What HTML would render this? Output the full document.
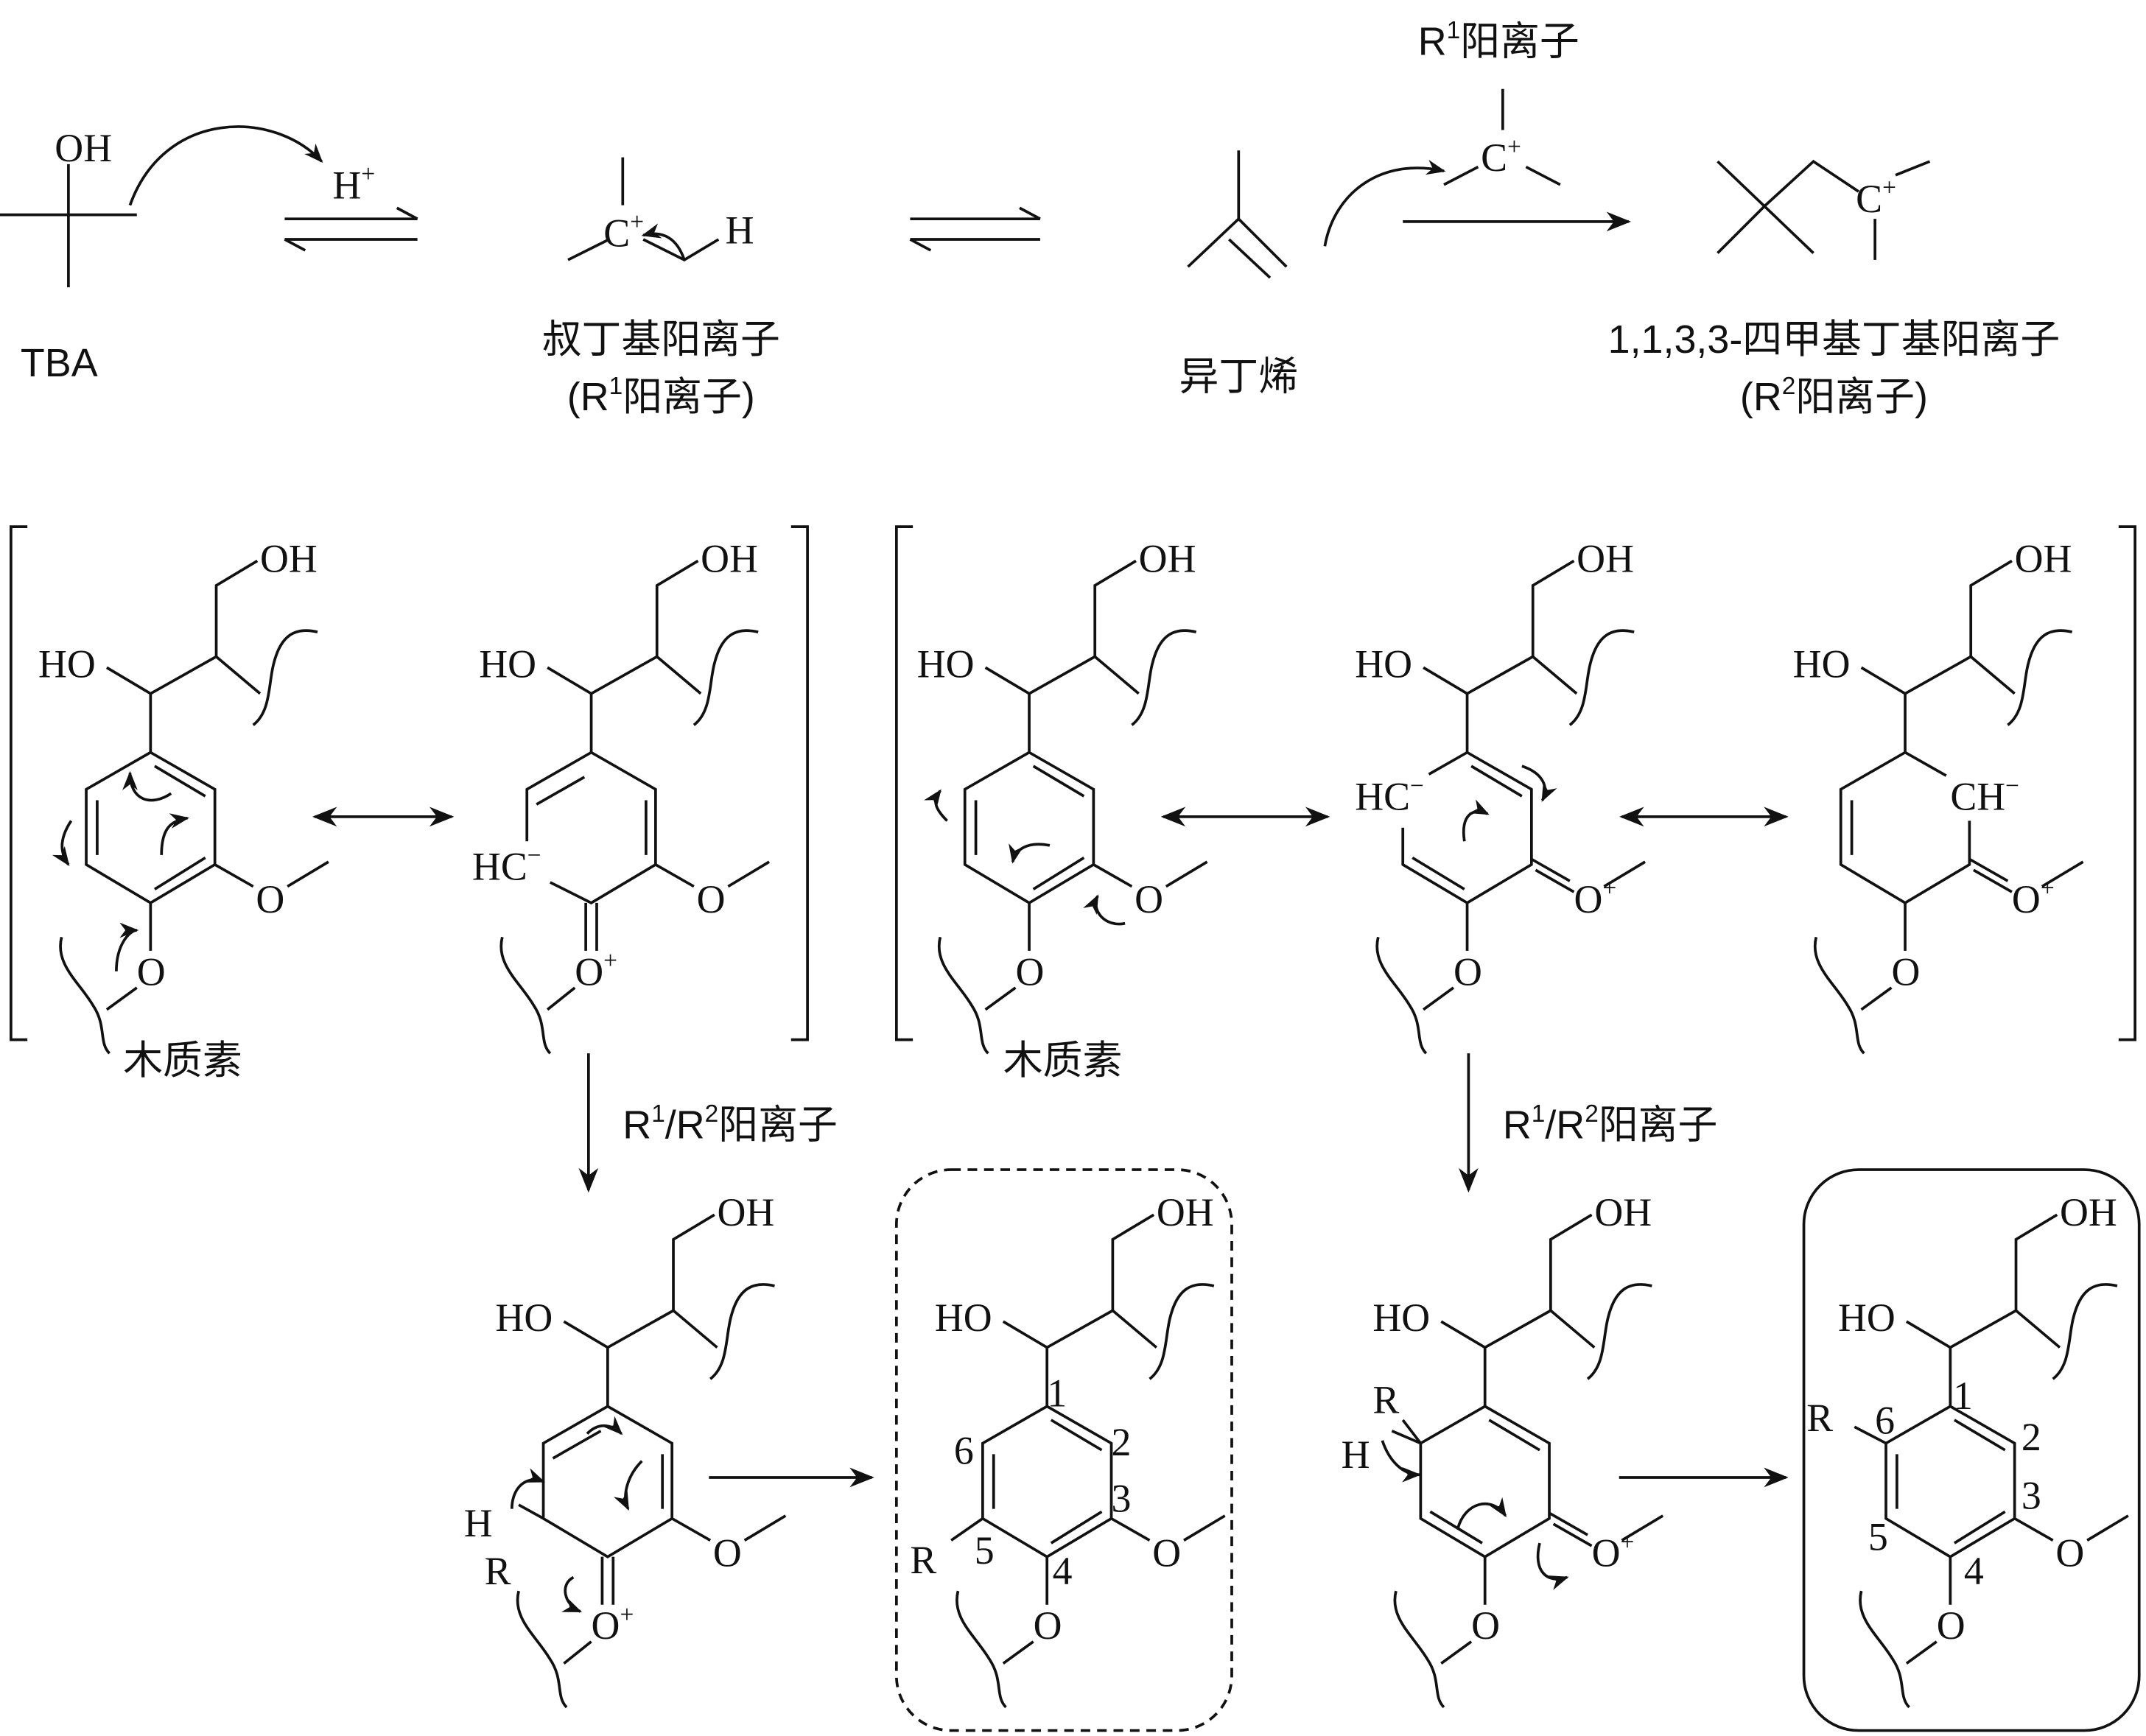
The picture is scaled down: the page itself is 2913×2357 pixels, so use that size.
<!DOCTYPE html>
<html><head><meta charset="utf-8"><style>
html,body{margin:0;padding:0;background:#fff}
svg{display:block}
text{font-family:"Liberation Serif","Noto Serif CJK SC",serif;font-size:29px;fill:#111}
.cn{font-family:"Liberation Sans","Noto Sans CJK SC",sans-serif;font-size:29px}
</style></head><body>
<svg width="2913" height="2357" viewBox="0 0 1568 1269" preserveAspectRatio="none" xmlns="http://www.w3.org/2000/svg">
<defs>
<marker id="ah" viewBox="0 0 10 10" refX="9" refY="5" markerWidth="9" markerHeight="9" orient="auto-start-reverse"><path d="M0,1 L10,5 L0,9 L3,5z" fill="#111"/></marker>
<marker id="ca" viewBox="0 0 10 10" refX="9" refY="5" markerWidth="7" markerHeight="7" orient="auto"><path d="M0,1 L10,5 L0,9 L3,5z" fill="#111"/></marker>
<g id="sk" fill="none" stroke="#111" stroke-width="2">
<path d="M78,488 L110,507 L158,480 L158,428 L188,410 M158,480 L190,507 M110,507 L110,550"/>
<path d="M185,530 C198,520 196,500 200,485 C205,465 215,458 232,462"/>
<path d="M157,632 L185,648 M210,648 L240,630"/>
<path d="M45,685 C40,705 58,718 68,735 C78,750 72,762 80,770"/>
</g>
</defs>
<g fill="none" stroke="#111" stroke-width="2">
<path d="M0,157 L100,157 M50,120 L50,210"/>
<path d="M95,150 C120,80 200,80 235,118" marker-end="url(#ca)"/>
<path d="M208,160 L305,160 M290,152 L305,160 M208,175 L305,175 M208,175 L223,183"/>
<path d="M455,115 L455,150 M415,190 L445,175 M470,175 L500,190 L525,175"/>
<path d="M500,190 C495,175 485,168 470,172" marker-end="url(#ca)"/>
<path d="M665,160 L760,160 M745,152 L760,160 M665,175 L760,175 M665,175 L680,183"/>
<path d="M905,110 L905,160 L868,195 M905,160 L940,195 M898,175 L928,203"/>
<path d="M968,180 C975,140 1010,115 1055,125" marker-end="url(#ca)"/>
<path d="M1098,65 L1098,95 M1055,135 L1080,122 M1115,122 L1140,135"/>
<path d="M1025,162 L1190,162" marker-end="url(#ah)"/>
<path d="M1255,118 L1325,185 M1255,185 L1290,150 L1325,118 L1358,140 M1370,160 L1370,190 M1385,128 L1410,118"/>
<path d="M20,385 L8,385 L8,760 L20,760 M578,385 L590,385 L590,760 L578,760"/>
<path d="M667,385 L655,385 L655,760 L667,760 M1548,385 L1560,385 L1560,760 L1548,760"/>
<path d="M230,597 L330,597" marker-start="url(#ah)" marker-end="url(#ah)"/>
<path d="M850,597 L970,597" marker-start="url(#ah)" marker-end="url(#ah)"/>
<path d="M1185,597 L1305,597" marker-start="url(#ah)" marker-end="url(#ah)"/>
<path d="M430,770 L430,870" marker-end="url(#ah)"/>
<path d="M1073,770 L1073,870" marker-end="url(#ah)"/>
<path d="M518,1080 L637,1080" marker-end="url(#ah)"/>
<path d="M1183,1080 L1305,1080" marker-end="url(#ah)"/>
<rect x="655" y="855" width="245" height="410" rx="40" stroke-dasharray="7,5"/>
<rect x="1318" y="855" width="245" height="410" rx="40"/>
</g>
<text x="40" y="118">OH</text><text x="15" y="275" class="cn">TBA</text>
<text x="243" y="145">H<tspan font-size="18" dy="-12">+</tspan></text>
<text x="441" y="180">C<tspan font-size="18" dy="-12">+</tspan></text><text x="530" y="178">H</text>
<text x="483" y="258" class="cn" text-anchor="middle">叔丁基阳离子</text>
<text x="483" y="300" class="cn" text-anchor="middle">(R<tspan font-size="18" dy="-12">1</tspan><tspan dy="12">阳离子)</tspan></text>
<text x="905" y="285" class="cn" text-anchor="middle">异丁烯</text>
<text x="1095" y="40" class="cn" text-anchor="middle">R<tspan font-size="18" dy="-12">1</tspan><tspan dy="12">阳离子</tspan></text>
<text x="1082" y="125">C<tspan font-size="18" dy="-12">+</tspan></text>
<text x="1356" y="155">C<tspan font-size="18" dy="-12">+</tspan></text>
<text x="1340" y="258" class="cn" text-anchor="middle">1,1,3,3-四甲基丁基阳离子</text>
<text x="1340" y="300" class="cn" text-anchor="middle">(R<tspan font-size="18" dy="-12">2</tspan><tspan dy="12">阳离子)</tspan></text>
<text x="455" y="832" class="cn">R<tspan font-size="18" dy="-12">1</tspan><tspan dy="12">/R</tspan><tspan font-size="18" dy="-12">2</tspan><tspan dy="12">阳离子</tspan></text>
<text x="1098" y="832" class="cn">R<tspan font-size="18" dy="-12">1</tspan><tspan dy="12">/R</tspan><tspan font-size="18" dy="-12">2</tspan><tspan dy="12">阳离子</tspan></text>
<text x="90" y="785" class="cn">木质素</text><text x="733" y="785" class="cn">木质素</text>

<g transform="translate(0,0)">
<use href="#sk"/>
<g fill="none" stroke="#111" stroke-width="2"><path d="M110,550 L157,577 L157,632 L110,660 L63,632 L63,577 Z M71,585 L71,625 M113,560 L150,582 M150,627 L113,650 M110,660 L110,695 M100,722 L78,738"/>
<path d="M125,580 C110,590 95,585 95,565" marker-end="url(#ca)"/><path d="M52,600 C42,615 45,625 50,632" marker-end="url(#ca)"/><path d="M118,625 C118,605 125,600 137,598" marker-end="url(#ca)"/><path d="M85,710 C85,690 95,680 100,680" marker-end="url(#ca)"/></g>
<text x="28" y="495">HO</text><text x="190" y="418">OH</text><text x="187" y="667">O</text><text x="100" y="720">O</text>
</g>
<g transform="translate(322,0)">
<use href="#sk"/>
<g fill="none" stroke="#111" stroke-width="2"><path d="M110,550 L157,577 L157,632 L110,660 L80,645 M110,550 L63,577 L63,615 M70,588 L105,568 M150,585 L150,625 M106,660 L106,695 M114,660 L114,695 M98,722 L78,738"/></g>
<text x="28" y="495">HO</text><text x="190" y="418">OH</text><text x="187" y="667">O</text><text x="23" y="643">HC<tspan font-size="18" dy="-12">−</tspan></text><text x="98" y="720">O<tspan font-size="18" dy="-12">+</tspan></text>
</g>
<g transform="translate(642,0)">
<use href="#sk"/>
<g fill="none" stroke="#111" stroke-width="2"><path d="M110,550 L157,577 L157,632 L110,660 L63,632 L63,577 Z M71,585 L71,625 M113,560 L150,582 M150,627 L113,650 M110,660 L110,695 M100,722 L78,738"/>
<path d="M50,600 C40,590 40,585 45,578" marker-end="url(#ca)"/><path d="M125,618 C110,615 100,620 98,630" marker-end="url(#ca)"/><path d="M180,675 C165,678 155,665 160,655" marker-end="url(#ca)"/></g>
<text x="28" y="495">HO</text><text x="190" y="418">OH</text><text x="187" y="667">O</text><text x="100" y="720">O</text>
</g>
<g transform="translate(962,0)">
<use href="#sk"/>
<g fill="none" stroke="#111" stroke-width="2"><path d="M157,632 L185,648" stroke="#fff" stroke-width="4"/>
<path d="M110,550 L157,577 L157,632 L110,660 L63,632 L63,605 M110,550 L82,566 M113,560 L150,582 M70,627 L108,650 M157,628 L185,644 M160,636 L188,652 M110,660 L110,695 M100,722 L78,738"/>
<path d="M108,615 C105,595 115,590 125,595" marker-end="url(#ca)"/><path d="M150,560 C165,565 170,575 165,585" marker-end="url(#ca)"/></g>
<text x="28" y="495">HO</text><text x="190" y="418">OH</text><text x="188" y="667">O<tspan font-size="18" dy="-12">+</tspan></text><text x="28" y="592">HC<tspan font-size="18" dy="-12">−</tspan></text><text x="100" y="720">O</text>
</g>
<g transform="translate(1282,0)">
<use href="#sk"/>
<g fill="none" stroke="#111" stroke-width="2"><path d="M157,632 L185,648" stroke="#fff" stroke-width="4"/>
<path d="M110,550 L140,567 M157,600 L157,632 L110,660 L63,632 L63,577 L110,550 M71,585 L71,625 M157,628 L185,644 M160,636 L188,652 M110,660 L110,695 M100,722 L78,738"/></g>
<text x="28" y="495">HO</text><text x="190" y="418">OH</text><text x="188" y="667">O<tspan font-size="18" dy="-12">+</tspan></text><text x="143" y="592">CH<tspan font-size="18" dy="-12">−</tspan></text><text x="100" y="720">O</text>
</g>
<g transform="translate(334,478)">
<use href="#sk"/>
<g fill="none" stroke="#111" stroke-width="2"><path d="M110,550 L157,577 L157,632 L110,660 L63,632 L63,577 Z M70,588 L105,568 M150,585 L150,625 M106,660 L106,695 M114,660 L114,695 M98,722 L78,738 M63,632 L45,622"/>
<path d="M40,625 C40,610 50,600 63,605" marker-end="url(#ca)"/><path d="M95,570 C105,560 115,565 120,570" marker-end="url(#ca)"/><path d="M135,590 C125,600 120,615 125,625" marker-end="url(#ca)"/><path d="M85,675 C75,680 78,695 90,700" marker-end="url(#ca)"/></g>
<text x="28" y="495">HO</text><text x="190" y="418">OH</text><text x="187" y="667">O</text><text x="5" y="645">H</text><text x="20" y="680">R</text><text x="98" y="720">O<tspan font-size="18" dy="-12">+</tspan></text>
</g>
<g transform="translate(655,478)">
<use href="#sk"/>
<g fill="none" stroke="#111" stroke-width="2"><path d="M110,550 L157,577 L157,632 L110,660 L63,632 L63,577 Z M71,585 L71,625 M113,560 L150,582 M150,627 L113,650 M110,660 L110,695 M100,722 L78,738 M63,632 L40,648"/></g>
<text x="28" y="495">HO</text><text x="190" y="418">OH</text><text x="187" y="667">O</text><text x="100" y="720">O</text>
<text x="110" y="550" font-size="24">1</text><text x="157" y="586" font-size="24">2</text><text x="157" y="627" font-size="24">3</text><text x="114" y="680" font-size="24">4</text><text x="57" y="665" font-size="24">5</text><text x="42" y="592" font-size="24">6</text><text x="10" y="672">R</text>
</g>
<g transform="translate(975,478)">
<use href="#sk"/>
<g fill="none" stroke="#111" stroke-width="2"><path d="M157,632 L185,648" stroke="#fff" stroke-width="4"/>
<path d="M110,550 L157,577 L157,632 L110,660 L63,632 L63,577 Z M113,560 L150,582 M70,627 L108,650 M157,628 L185,644 M160,636 L188,652 M110,660 L110,695 M100,722 L78,738 M63,577 L42,568 M63,577 L50,560"/>
<path d="M35,575 C40,590 50,600 62,600" marker-end="url(#ca)"/><path d="M90,640 C95,620 115,615 125,630" marker-end="url(#ca)"/><path d="M150,650 C145,670 155,680 170,675" marker-end="url(#ca)"/></g>
<text x="28" y="495">HO</text><text x="190" y="418">OH</text><text x="188" y="667">O<tspan font-size="18" dy="-12">+</tspan></text><text x="5" y="595">H</text><text x="28" y="555">R</text><text x="100" y="720">O</text>
</g>
<g transform="translate(1315,478)">
<use href="#sk"/>
<g fill="none" stroke="#111" stroke-width="2"><path d="M110,550 L157,577 L157,632 L110,660 L63,632 L63,577 Z M71,585 L71,625 M113,560 L150,582 M150,627 L113,650 M110,660 L110,695 M100,722 L78,738 M63,577 L40,565"/></g>
<text x="28" y="495">HO</text><text x="190" y="418">OH</text><text x="187" y="667">O</text><text x="100" y="720">O</text>
<text x="112" y="552" font-size="24">1</text><text x="162" y="582" font-size="24">2</text><text x="162" y="625" font-size="24">3</text><text x="120" y="680" font-size="24">4</text><text x="50" y="655" font-size="24">5</text><text x="55" y="570" font-size="24">6</text><text x="5" y="568">R</text>
</g>
</svg>
</body></html>
